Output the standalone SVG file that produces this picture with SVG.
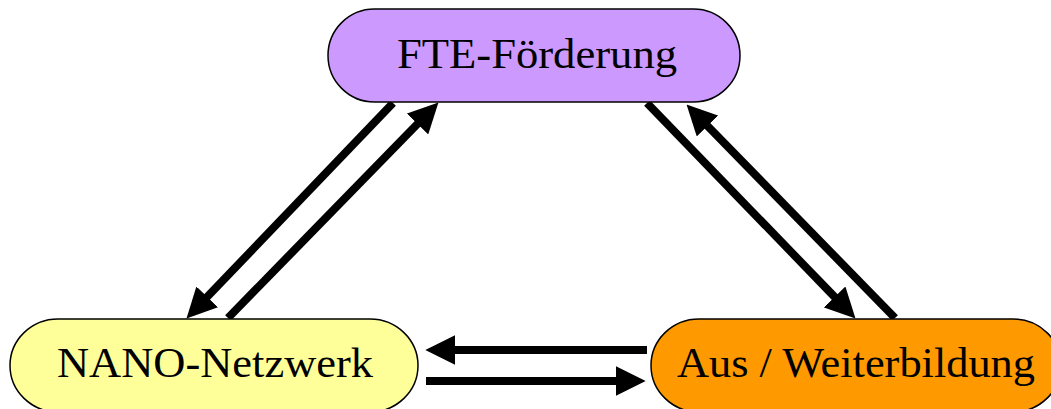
<svg xmlns="http://www.w3.org/2000/svg" width="1051" height="409" viewBox="0 0 1051 409">
<style>
.node{stroke:#000;stroke-width:1.5}
.lbl{font-family:"Liberation Serif","Times New Roman",serif;font-size:42px;fill:#000;text-anchor:middle}
.conn{stroke:#000;stroke-width:8;fill:none}
</style>
<defs>
<marker id="ah" markerUnits="userSpaceOnUse" markerWidth="30" markerHeight="30" viewBox="0 0 29 29" refX="9" refY="14.5" orient="auto">
<path d="M0,0 L29,14.5 L0,29 z" fill="#000"/>
</marker>
</defs>
<rect width="1051" height="409" fill="#fff"/>
<g id="connectors">
<line class="conn" x1="393" y1="103" x2="200.8" y2="303.6" marker-end="url(#ah)"/>
<line class="conn" x1="228" y1="318" x2="424" y2="117.3" marker-end="url(#ah)"/>
<line class="conn" x1="647" y1="103" x2="841.1" y2="303.6" marker-end="url(#ah)"/>
<line class="conn" x1="895" y1="318" x2="701" y2="119.3" marker-end="url(#ah)"/>
<line class="conn" x1="647" y1="350" x2="446" y2="350" marker-end="url(#ah)"/>
<line class="conn" x1="426" y1="381" x2="625" y2="381" marker-end="url(#ah)"/>
</g>
<g id="fte">
<rect class="node" x="328" y="9" width="412" height="93" rx="46.5" fill="#CC99FF"/>
<text class="lbl" x="537" y="68" textLength="280" lengthAdjust="spacingAndGlyphs">FTE-Förderung</text>
</g>
<g id="nano">
<rect class="node" x="10" y="319" width="408" height="93" rx="48" ry="46.5" fill="#FFFF99"/>
<text class="lbl" x="215" y="377" textLength="316" lengthAdjust="spacingAndGlyphs">NANO-Netzwerk</text>
</g>
<g id="aus">
<rect class="node" x="651" y="319" width="410" height="93" rx="48" ry="46.5" fill="#FF9900"/>
<text class="lbl" x="856" y="377" textLength="358" lengthAdjust="spacingAndGlyphs">Aus / Weiterbildung</text>
</g>
</svg>
